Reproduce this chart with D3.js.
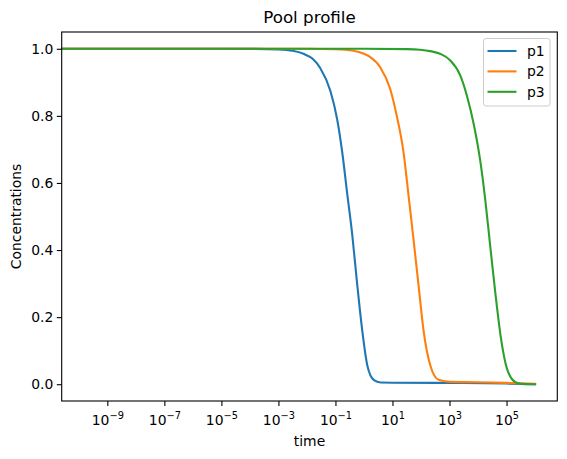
<!DOCTYPE html>
<html>
<head>
<meta charset="utf-8">
<script src="https://cdn.jsdelivr.net/npm/d3@7"></script>
<style>
body { margin: 0; background: #fff; }
text { font-family: "DejaVu Sans", sans-serif; fill: #000; }
</style>
</head>
<body>
<div id="chart"></div>
<script>
// values (time in seconds, concentration fraction)
var p1Time = [1e-11, 1e-5, 1e-4, 1e-3, 10**-2.5, 10**-2.12, 10**-1.8, 10**-1.53, 10**-1.18, 10**-0.94, 10**-0.76, 10**-0.59, 10**-0.41, 10**-0.24, 10**-0.06, 10**0.12, 10**0.35, 10**0.58, 10, 1e3, 1e5, 1e6];
var p1Conc = [1.0, 1.0, 0.9998, 0.998, 0.994, 0.985, 0.97, 0.942, 0.875, 0.79, 0.69, 0.57, 0.445, 0.30, 0.16, 0.055, 0.012, 0.005, 0.0045, 0.004, 0.002, 0.0];

var p2Time = [1e-11, 1e-2, 1e-1, 10**-0.37, 1, 10**0.21, 10**0.57, 10**0.92, 10**1.15, 10**1.39, 10**1.56, 10**1.74, 10**1.92, 10**2.09, 10**2.33, 10**2.62, 10**3.03, 1e4, 1e5, 1e6];
var p2Conc = [1.0, 1.0, 0.9985, 0.994, 0.985, 0.976, 0.945, 0.88, 0.80, 0.69, 0.565, 0.43, 0.29, 0.16, 0.055, 0.013, 0.007, 0.006, 0.004, 0.001];

var p3Time = [1e-11, 1, 10**1.5, 10**1.97, 10**2.32, 10**2.67, 10**3.02, 10**3.38, 10**3.61, 10**3.85, 10**4.08, 10**4.26, 10**4.43, 10**4.61, 10**4.79, 10**5.02, 10**5.31, 10**5.5, 1e6];
var p3Conc = [1.0, 1.0, 0.999, 0.997, 0.993, 0.985, 0.966, 0.92, 0.86, 0.775, 0.665, 0.545, 0.41, 0.27, 0.145, 0.045, 0.006, 0.001, 0.0];

var seriesNames = ["p1", "p2", "p3"];
var seriesColors = ["#1f77b4", "#ff7f0e", "#2ca02c"];
var xTickValues = [1e-9, 1e-7, 1e-5, 1e-3, 1e-1, 1e1, 1e3, 1e5];
var yTickValues = [0, 0.2, 0.4, 0.6, 0.8, 1.0];

var width = 567, height = 459;
var plotLeft = 61.7, plotRight = 557.3, plotTop = 32, plotBottom = 401;

var svg = d3.select("#chart").append("svg")
    .attr("width", width)
    .attr("height", height);

var x = d3.scaleLog()
    .domain([10**-10.6, 10**6.78])
    .range([plotLeft, plotRight]);

var y = d3.scaleLinear()
    .domain([-0.05, 1.05])
    .range([plotBottom, plotTop]);

svg.append("clipPath").attr("id", "clip")
    .append("rect")
    .attr("x", plotLeft).attr("y", plotTop)
    .attr("width", plotRight - plotLeft).attr("height", plotBottom - plotTop);

var series = [
    {name: seriesNames[0], color: seriesColors[0], pts: d3.zip(p1Time, p1Conc)},
    {name: seriesNames[1], color: seriesColors[1], pts: d3.zip(p2Time, p2Conc)},
    {name: seriesNames[2], color: seriesColors[2], pts: d3.zip(p3Time, p3Conc)}
];

var line = d3.line()
    .x(d => x(d[0]))
    .y(d => y(d[1]))
    .curve(d3.curveMonotoneX);

svg.append("g").attr("clip-path", "url(#clip)")
    .selectAll("path")
    .data(series)
    .enter().append("path")
    .attr("d", d => line(d.pts))
    .attr("fill", "none")
    .attr("stroke", d => d.color)
    .attr("stroke-width", 2.1)
    .attr("stroke-linejoin", "round")
    .attr("stroke-linecap", "square");

// axes
var xAxis = svg.append("g")
    .attr("transform", "translate(0," + plotBottom + ")")
    .call(d3.axisBottom(x).tickValues(xTickValues).tickSize(4.9).tickPadding(3.5).tickFormat(""));
xAxis.select(".domain").remove();
xAxis.selectAll(".tick line").attr("stroke", "#000").attr("stroke-width", 1.1);

xAxis.selectAll(".tick").append("text")
    .attr("y", 24)
    .attr("text-anchor", "middle")
    .style("font-size", "13.9px")
    .each(function(d) {
        var e = Math.round(Math.log10(d));
        var t = d3.select(this);
        t.append("tspan").text("10");
        t.append("tspan")
            .attr("dy", -6)
            .style("font-size", "9.8px")
            .text(e < 0 ? "\u2212" + (-e) : String(e));
    });

var yAxis = svg.append("g")
    .attr("transform", "translate(" + plotLeft + ",0)")
    .call(d3.axisLeft(y).tickValues(yTickValues).tickSize(4.9).tickPadding(3.5).tickFormat(d3.format(".1f")));
yAxis.select(".domain").remove();
yAxis.selectAll(".tick line").attr("stroke", "#000").attr("stroke-width", 1.1);
yAxis.selectAll(".tick text")
    .attr("fill", "#000")
    .style("font-family", "DejaVu Sans")
    .style("font-size", "13.9px");

svg.append("rect")
    .attr("x", plotLeft).attr("y", plotTop)
    .attr("width", plotRight - plotLeft).attr("height", plotBottom - plotTop)
    .attr("fill", "none")
    .attr("stroke", "#000")
    .attr("stroke-width", 1.1);

// labels
svg.append("text")
    .attr("x", (plotLeft + plotRight) / 2).attr("y", 23)
    .attr("text-anchor", "middle")
    .style("font-size", "16.7px")
    .text("Pool profile");

svg.append("text")
    .attr("x", (plotLeft + plotRight) / 2).attr("y", 446)
    .attr("text-anchor", "middle")
    .style("font-size", "13.9px")
    .text("time");

svg.append("text")
    .attr("transform", "translate(21," + ((plotTop + plotBottom) / 2) + ") rotate(-90)")
    .attr("text-anchor", "middle")
    .style("font-size", "13.9px")
    .text("Concentrations");

// legend
var legend = svg.append("g");
legend.append("rect")
    .attr("x", 483.5).attr("y", 38.5)
    .attr("width", 66.5).attr("height", 67.5)
    .attr("rx", 2.5)
    .attr("fill", "#fff").attr("fill-opacity", 0.8)
    .attr("stroke", "#cccccc").attr("stroke-width", 1);

var item = legend.selectAll(".item")
    .data(series)
    .enter().append("g")
    .attr("class", "item")
    .attr("transform", (d, i) => "translate(0," + (51 + i * 20.4) + ")");
item.append("line")
    .attr("x1", 487.5).attr("x2", 516.5)
    .attr("stroke", d => d.color)
    .attr("stroke-width", 2.1);
item.append("text")
    .attr("x", 527).attr("y", 5)
    .style("font-size", "13.9px")
    .text(d => d.name);
</script>
</body>
</html>
